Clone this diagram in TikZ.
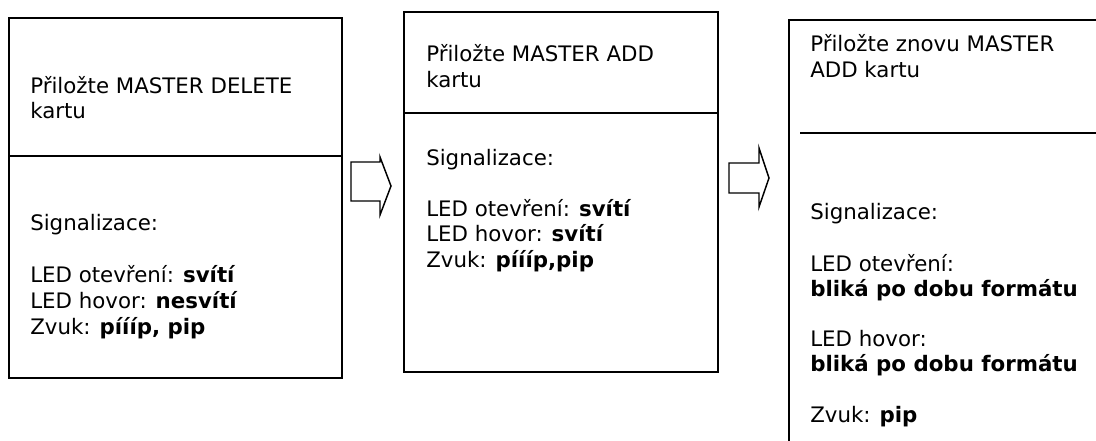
\documentclass[tikz,border=0pt]{standalone}
\usepackage{fontspec}
\setmainfont{DejaVu Sans}

\begin{document}
\begin{tikzpicture}[x=0.75pt,y=-0.75pt]
\tikzset{frame/.style={draw=black,line width=1.5pt}}
\tikzset{divider/.style={draw=black,line width=1.2pt}}
\tikzset{blockarrow/.style={draw=black,line width=1.1pt,line join=miter}}
\tikzset{txt/.style={inner sep=0pt,anchor=base west,font=\fontsize{16}{19.2}\selectfont}}

\useasboundingbox (0,0) rectangle (1096,441);
\clip (0,0) rectangle (1096,441);

% boxes
\path[frame] (9,18) rectangle (342,378);
\path[divider] (9,156) -- (342,156);

\path[frame] (404,12) rectangle (718,372);
\path[divider] (404,113) -- (718,113);

\path[frame] (789,20) rectangle (1130,470);
\path[divider] (800,133) -- (1096,133);

% texts, box 1
\node[txt] (h1a) at (30,94) {Přiložte MASTER DELETE};
\node[txt] (h1b) at (30,119) {kartu};
\node[txt] (s1) at (30,231) {Signalizace:};
\node[txt] (o1) at (30,283) {LED otevření: \textbf{svítí}};
\node[txt] (v1) at (30,309) {LED hovor: \textbf{nesvítí}};
\node[txt] (z1) at (30,335) {Zvuk: \textbf{píííp, pip}};

% texts, box 2
\node[txt] (h2a) at (426,62) {Přiložte MASTER ADD};
\node[txt] (h2b) at (426,88) {kartu};
\node[txt] (s2) at (426,166) {Signalizace:};
\node[txt] (o2) at (426,217) {LED otevření: \textbf{svítí}};
\node[txt] (v2) at (426,242) {LED hovor: \textbf{svítí}};
\node[txt] (z2) at (426,268) {Zvuk: \textbf{píííp,pip}};

% texts, box 3
\node[txt] (h3a) at (810,52) {Přiložte znovu MASTER};
\node[txt] (h3b) at (810,78) {ADD kartu};
\node[txt] (s3) at (810,220) {Signalizace:};
\node[txt] (o3) at (810,272) {LED otevření:};
\node[txt] (o3b) at (810,297) {\textbf{bliká po dobu formátu}};
\node[txt] (v3) at (810,347) {LED hovor:};
\node[txt] (v3b) at (810,372) {\textbf{bliká po dobu formátu}};
\node[txt] (z3) at (810,422) {Zvuk: \textbf{pip}};

% arrows
\coordinate (tip1) at (391,186);
\coordinate (tip2) at (769,178);
\path[blockarrow] (tip1) -- ++(-11,-29) -- ++(0,5) -- ++(-29,0) -- ++(0,39)
  -- ++(29,0) -- ++(0,14) -- cycle;
\path[blockarrow] (tip2) -- ++(-10,-30) -- ++(0,15) -- ++(-30,0) -- ++(0,30)
  -- ++(30,0) -- ++(0,14) -- cycle;

\end{tikzpicture}
\end{document}
